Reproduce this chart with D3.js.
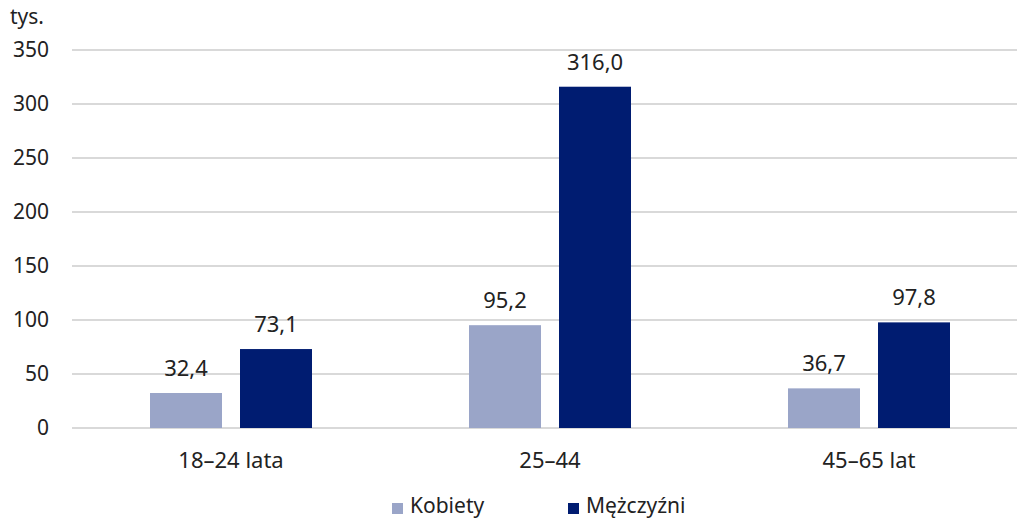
<!DOCTYPE html>
<html>
  <head>
    <meta charset="utf-8" />
    <title>Kobiety i Mężczyźni</title>
    <style>
      body { margin: 0; background: #fff; }
      text { font-family: "Noto Sans", "Open Sans", sans-serif; fill: #222; }
    </style>
  </head>
  <body>
    <script src="https://cdn.jsdelivr.net/npm/d3@7/dist/d3.min.js"></script>
    <script>
      const categories = ["18–24 lata", "25–44", "45–65 lat"];
      const seriesNames = ["Kobiety", "Mężczyźni"];
      const kobiety = [32.4, 95.2, 36.7];
      const mezczyzni = [73.1, 316.0, 97.8];
      const yTicks = [0, 50, 100, 150, 200, 250, 300, 350];
      const colors = ["#9aa5c8", "#001c71"];

      const width = 1019;
      const height = 520;

      const svg = d3.select("body").append("svg")
        .attr("width", width)
        .attr("height", height);

      const y = d3.scaleLinear().domain([0, 350]).range([428, 50]);
      const x0 = d3.scaleBand().domain(categories).range([71.5, 1028.5]);
      const x1 = d3.scaleBand().domain(seriesNames).range([-81, 81]).paddingInner(0.2);

      // siatka
      svg.append("g").selectAll("line")
        .data(yTicks)
        .join("line")
        .attr("x1", 72)
        .attr("x2", 1017)
        .attr("y1", d => y(d))
        .attr("y2", d => y(d))
        .attr("stroke", "#d9d9d9")
        .attr("stroke-width", 2);

      svg.append("g").selectAll("text")
        .data(yTicks)
        .join("text")
        .attr("x", 49)
        .attr("y", d => y(d) + 7)
        .attr("text-anchor", "end")
        .style("font-size", "21px")
        .text(d => d);

      svg.append("text")
        .attr("x", 10)
        .attr("y", 24)
        .style("font-size", "21px")
        .text("tys.");

      const rows = categories.map((c, i) => ({ cat: c, vals: [kobiety[i], mezczyzni[i]] }));

      const groups = svg.append("g").selectAll("g")
        .data(rows)
        .join("g")
        .attr("transform", d => `translate(${x0(d.cat) + x0.bandwidth() / 2},0)`);

      const bars = groups.selectAll("g")
        .data(d => d.vals.map((v, j) => ({ name: seriesNames[j], v: v, j: j })))
        .join("g");

      bars.append("rect")
        .attr("x", d => x1(d.name))
        .attr("width", x1.bandwidth())
        .attr("y", d => y(d.v))
        .attr("height", d => y(0) - y(d.v))
        .attr("fill", d => colors[d.j]);

      bars.append("text")
        .attr("x", d => x1(d.name) + x1.bandwidth() / 2)
        .attr("y", d => y(d.v) - 17)
        .attr("text-anchor", "middle")
        .style("font-size", "22px")
        .text(d => d.v.toFixed(1).replace(".", ","));

      groups.append("text")
        .attr("x", 0)
        .attr("y", 468)
        .attr("text-anchor", "middle")
        .style("font-size", "22px")
        .text(d => d.cat);

      // legenda
      const legendX = [392, 568];
      const legend = svg.append("g").selectAll("g")
        .data(seriesNames)
        .join("g")
        .attr("transform", (d, i) => `translate(${legendX[i]},0)`);

      legend.append("rect")
        .attr("x", 0)
        .attr("y", 503)
        .attr("width", 11)
        .attr("height", 11)
        .attr("fill", (d, i) => colors[i]);

      legend.append("text")
        .attr("x", 18)
        .attr("y", 513)
        .style("font-size", "21px")
        .text(d => d);
    </script>
  </body>
</html>
